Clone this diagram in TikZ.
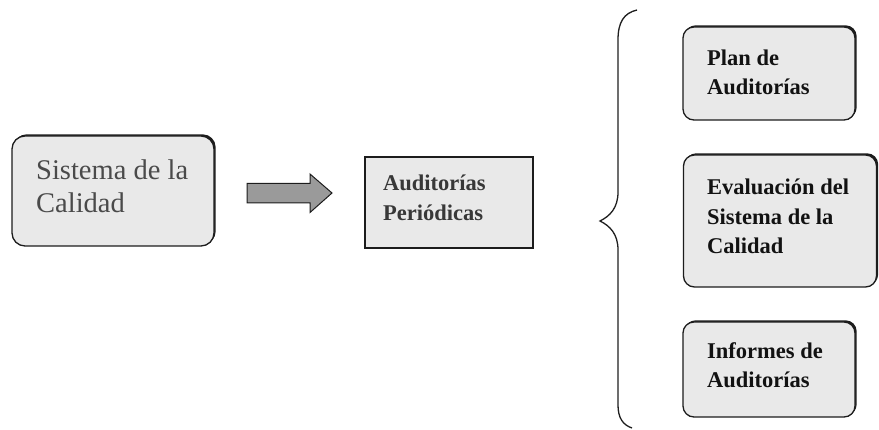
\documentclass[tikz,border=0pt]{standalone}
\usepackage{fontspec}
\setmainfont{Liberation Serif}
\usetikzlibrary{shadows}
\definecolor{boxfill}{HTML}{E9E9E9}
\definecolor{edge}{HTML}{1C1C1C}
\definecolor{softtext}{HTML}{4A4A4A}
\definecolor{midtext}{HTML}{383838}
\definecolor{darktext}{HTML}{121212}
\definecolor{arrowfill}{HTML}{9A9A9A}
\begin{document}
\begin{tikzpicture}[x=1pt,y=-1pt,
  panel/.style={draw=edge, line width=1.3pt, fill=boxfill, inner sep=0pt,
    general shadow={shadow xshift=1.7pt, shadow yshift=1.7pt, fill=edge}},
  roundpanel/.style={panel, rounded corners=13pt},
  plainpanel/.style={draw=edge, line width=1.3pt, fill=boxfill, inner sep=0pt},
  bigtext/.style={anchor=base west, inner sep=0pt, align=left, text=softtext,
    font=\fontsize{28.5}{33}\selectfont},
  midlabel/.style={anchor=base west, inner sep=0pt, align=left, text=midtext,
    font=\bfseries\fontsize{22.5}{30}\selectfont},
  sidelabel/.style={anchor=base west, inner sep=0pt, align=left, text=darktext,
    font=\bfseries\fontsize{22.5}{29.5}\selectfont},
  blockarrow/.style={draw=edge, line width=1pt, fill=arrowfill, line join=miter},
  bracket/.style={draw=black!88, line width=1.3pt}]
\useasboundingbox (0,0) rectangle (879,430);

% left box (labels are anchored at the baseline of their last line)
\node[roundpanel, minimum width=202pt, minimum height=110pt] (sys) at (113,191) {};
\node[bigtext] (systxt) at (36,213) {Sistema de la\\Calidad};

% block arrow between the two left boxes
\coordinate (arrstart) at (247,193);
\coordinate (arrtip) at (332,193);
\draw[blockarrow] (arrstart) ++(0,-9.5) -- ++(63,0) -- ++(0,-9.5)
  -- (arrtip) -- ++(-22,19.5) -- ++(0,-9.5) -- ++(-63,0) -- cycle;

% middle box
\node[plainpanel, minimum width=168pt, minimum height=91pt] (aud) at (449,202.5) {};
\node[midlabel] (audtxt) at (383,221) {Auditorías\\Periódicas};

% curly brace
\coordinate (brtop) at (637,10);
\coordinate (brtip) at (600,221);
\coordinate (brbot) at (632,428);
\draw[bracket] (brtop) .. controls (624,13) and (618,22) .. (618,40)
  -- (618,192) .. controls (618,208) and (610,216) .. (brtip)
  .. controls (610,226) and (618,234) .. (618,250)
  -- (618,405) .. controls (618,418) and (623,425) .. (brbot);

% boxes to the right of the brace
\node[roundpanel, rounded corners=11pt, minimum width=172pt, minimum height=93pt] (plan) at (769,73.5) {};
\node[sidelabel] (plantxt) at (707,95) {Plan de\\Auditorías};

\node[roundpanel, rounded corners=11pt, minimum width=193pt, minimum height=132pt] (eval) at (780,221) {};
\node[sidelabel] (evaltxt) at (707,254) {Evaluación del\\Sistema de la\\Calidad};

\node[roundpanel, rounded corners=11pt, minimum width=172pt, minimum height=95pt] (inf) at (769,369.5) {};
\node[sidelabel] (inftxt) at (707,388) {Informes de\\Auditorías};
\end{tikzpicture}
\end{document}
